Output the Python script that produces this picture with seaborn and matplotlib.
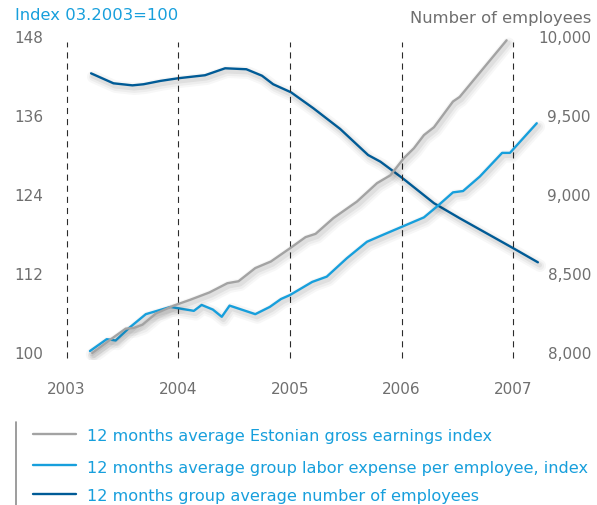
import numpy as np
import pandas as pd
import matplotlib
matplotlib.use("Agg")
import matplotlib.pyplot as plt
import matplotlib.patheffects as pe
from matplotlib.lines import Line2D
import seaborn as sns

# ---- data -------------------------------------------------------------
years = [2003, 2004, 2005, 2006, 2007]
left_ticks = [100, 112, 124, 136, 148]
right_ticks = [8000, 8500, 9000, 9500, 10000]
right_tick_labels = ["8,000", "8,500", "9,000", "9,500", "10,000"]

# 12 months average Estonian gross earnings index (03.2003 = 100)
earnings_t = [2003.23, 2003.39, 2003.53, 2003.60, 2003.68, 2003.80, 2003.96,
              2004.11, 2004.28, 2004.44, 2004.54, 2004.69, 2004.83, 2005.00,
              2005.14, 2005.23, 2005.39, 2005.60, 2005.78, 2005.90, 2006.02,
              2006.11, 2006.20, 2006.29, 2006.46, 2006.52, 2006.94]
earnings_v = [100.0, 102.0, 103.7, 103.8, 104.3, 106.0, 107.2,
              108.1, 109.2, 110.6, 110.9, 112.9, 113.9, 115.9,
              117.6, 118.1, 120.5, 123.0, 125.8, 127.0, 129.6,
              131.1, 133.1, 134.3, 138.2, 138.9, 147.5]

# 12 months average group labor expense per employee, index
labor_t = [2003.21, 2003.36, 2003.44, 2003.56, 2003.71, 2003.93, 2004.00,
           2004.14, 2004.21, 2004.31, 2004.39, 2004.46, 2004.69, 2004.82,
           2004.92, 2005.00, 2005.09, 2005.20, 2005.33, 2005.51, 2005.69,
           2005.84, 2006.02, 2006.20, 2006.32, 2006.46, 2006.55, 2006.70,
           2006.90, 2006.97, 2007.21]
labor_v = [100.3, 102.1, 101.9, 103.8, 105.9, 107.0, 106.8,
           106.4, 107.3, 106.6, 105.5, 107.2, 105.9, 107.0,
           108.2, 108.8, 109.7, 110.8, 111.6, 114.4, 116.9,
           118.0, 119.3, 120.6, 122.3, 124.4, 124.6, 126.8,
           130.4, 130.4, 134.9]

# 12 months group average number of employees
staff_t = [2003.22, 2003.42, 2003.59, 2003.69, 2003.84, 2004.00, 2004.24,
           2004.42, 2004.61, 2004.75, 2004.85, 2005.01, 2005.21, 2005.45,
           2005.70, 2005.81, 2005.93, 2006.02, 2006.29, 2006.52, 2007.00,
           2007.22]
staff_v = [9770, 9707, 9694, 9701, 9722, 9739, 9758,
           9802, 9796, 9755, 9701, 9650, 9549, 9418,
           9253, 9211, 9148, 9100, 8948, 8853, 8663,
           8574]

# ---- style ------------------------------------------------------------
sns.set_theme(style="white")
plt.rcParams["font.family"] = ["DejaVu Sans"]

C_GRAY = "#a3a3a3"
C_LIGHT = "#179fdc"
C_DARK = "#005b96"
C_TEXT = "#6f6f6f"
LW = 1.7

W, H = 597, 505
fig = plt.figure(figsize=(W / 100, H / 100), dpi=100)
fig.patch.set_facecolor("white")

# axes box in pixels: x 56..546, y 30..360 (from top)
px_per_year = 111.7
x0_px = 66.5
ax_left, ax_right = 56, 546
ax_top, ax_bot = 30, 360
px_per_unit = 316 / 48.0
y100_px = 353

ax = fig.add_axes([ax_left / W, 1 - ax_bot / H,
                   (ax_right - ax_left) / W, (ax_bot - ax_top) / H])
ax.set_xlim(2003 - (x0_px - ax_left) / px_per_year,
            2003 + (ax_right - x0_px) / px_per_year)
ylo = 100 - (ax_bot - y100_px) / px_per_unit
yhi = 100 + (y100_px - ax_top) / px_per_unit
ax.set_ylim(ylo, yhi)

ax2 = ax.twinx()
to_staff = lambda v: 8000 + (v - 100) * 500 / 12.0
ax2.set_ylim(to_staff(ylo), to_staff(yhi))

for a in (ax, ax2):
    a.set_facecolor("none")
    for s in a.spines.values():
        s.set_visible(False)
    a.grid(False)

# dashed year markers
ax.vlines(years, 99.2, 147.2, colors="#2b2b2b", linewidth=0.8,
          linestyles=(0, (5.5, 4.5)), zorder=1)


def shadow():
    return [pe.SimpleLineShadow(offset=(1.5, -2.5), shadow_color="black",
                                alpha=0.03, linewidth=9),
            pe.SimpleLineShadow(offset=(1.5, -2.5), shadow_color="black",
                                alpha=0.04, linewidth=6),
            pe.SimpleLineShadow(offset=(1.2, -2.0), shadow_color="black",
                                alpha=0.06, linewidth=3.5),
            pe.Normal()]


df_e = pd.DataFrame({"t": earnings_t, "v": earnings_v})
df_l = pd.DataFrame({"t": labor_t, "v": labor_v})
df_s = pd.DataFrame({"t": staff_t, "v": staff_v})

sns.lineplot(data=df_s, x="t", y="v", ax=ax2, color=C_DARK, linewidth=LW,
             sort=False, path_effects=shadow(), zorder=3)
sns.lineplot(data=df_l, x="t", y="v", ax=ax, color=C_LIGHT, linewidth=LW,
             sort=False, path_effects=shadow(), zorder=3)
sns.lineplot(data=df_e, x="t", y="v", ax=ax, color=C_GRAY, linewidth=LW,
             sort=False, path_effects=shadow(), zorder=4)
ax.set_zorder(ax2.get_zorder() + 1)

ax.set_xlabel("")
ax.set_ylabel("")
ax2.set_xlabel("")
ax2.set_ylabel("")

# ticks
ax.set_xticks(years)
ax.set_xticklabels([str(y) for y in years])
ax.set_yticks(left_ticks)
ax.set_yticklabels([str(v) for v in left_ticks])
ax.tick_params(axis="x", length=0, pad=16, labelsize=11, colors=C_TEXT)
ax.tick_params(axis="y", length=0, pad=9.2, labelsize=11, colors=C_TEXT)

ax2.set_yticks(right_ticks)
ax2.set_yticklabels(right_tick_labels)
ax2.tick_params(axis="y", length=0, pad=32.4, labelsize=11, colors=C_TEXT)
for lab in ax2.get_yticklabels():
    lab.set_horizontalalignment("right")

# axis titles
fig.text(15 / W, 1 - 20 / H, "Index 03.2003=100", color=C_LIGHT,
         fontsize=11.8, ha="left", va="baseline")
fig.text(591 / W, 1 - 23 / H, "Number of employees", color=C_TEXT,
         fontsize=11.8, ha="right", va="baseline")

# legend
fig.add_artist(Line2D([16 / W, 16 / W], [1 - 422 / H, 0], color="#8c8c8c",
                      linewidth=1.2, transform=fig.transFigure))
legend_rows = [
    ("12 months average Estonian gross earnings index", C_GRAY, 434),
    ("12 months average group labor expense per employee, index", C_LIGHT, 465),
    ("12 months group average number of employees", C_DARK, 494),
]
for label, col, ypx in legend_rows:
    fig.add_artist(Line2D([33 / W, 76 / W], [1 - ypx / H, 1 - ypx / H],
                          color=col, linewidth=LW, transform=fig.transFigure))
    fig.text(87 / W, 1 - (ypx + 7.5) / H, label, color=C_LIGHT,
             fontsize=11.65, ha="left", va="baseline")

fig.savefig("out.png", dpi=100, facecolor="white")
